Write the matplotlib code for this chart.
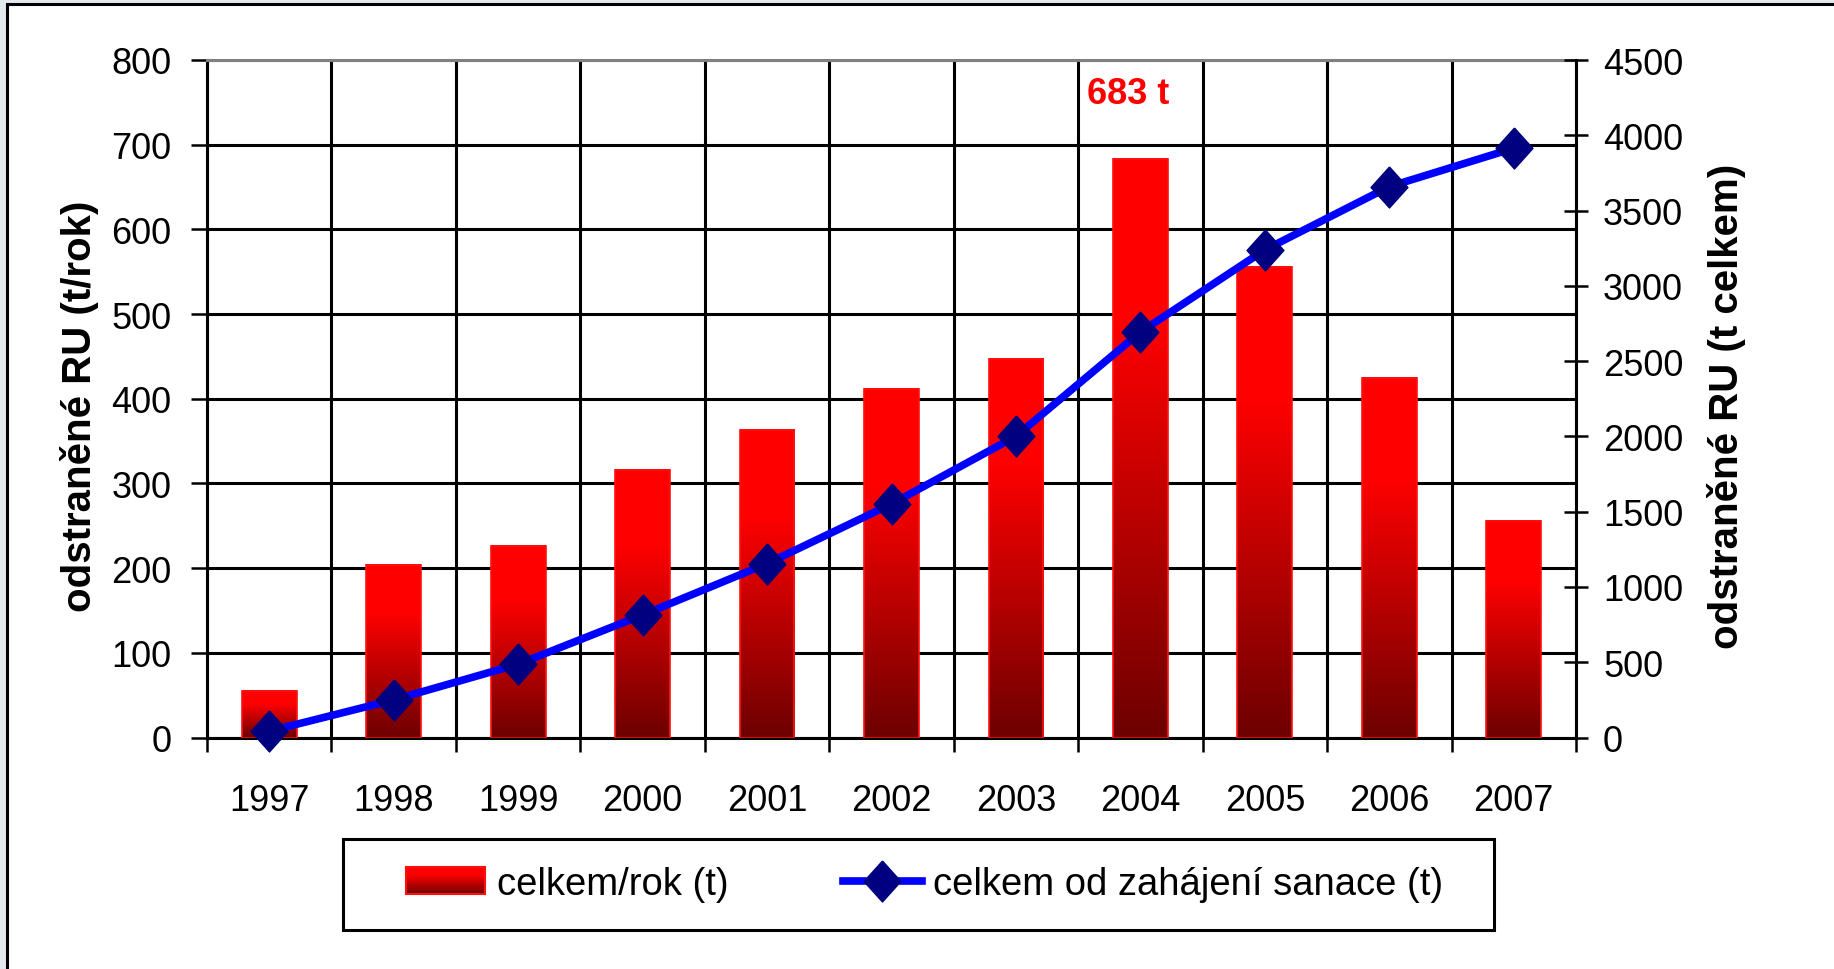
import matplotlib
matplotlib.use("Agg")
import matplotlib.pyplot as plt
import numpy as np
from matplotlib.lines import Line2D
from matplotlib.patches import Rectangle

YEARS = ["1997", "1998", "1999", "2000", "2001", "2002",
         "2003", "2004", "2005", "2006", "2007"]
PER_YEAR = [55, 204, 226, 316, 363, 412, 447, 683, 555, 424, 256]
CUMULATIVE = [42, 250, 487, 814, 1155, 1551, 2001, 2693, 3239, 3659, 3914]
LEFT_TICKS = list(range(0, 801, 100))
RIGHT_TICKS = list(range(0, 4501, 500))
PEAK_TEXT = "683 t"
LEGEND_LABELS = ["celkem/rok (t)", "celkem od zahájení sanace (t)"]
LEFT_LABEL = "odstraněné RU (t/rok)"
RIGHT_LABEL = "odstraněné RU (t celkem)"

W, H = 1834, 970
plt.rcParams["font.family"] = ["Liberation Sans", "DejaVu Sans"]


def red_gradient(n=256):
    t = np.linspace(0, 1, n)
    r = np.where(t < 0.28, 1.0, 1.0 - (t - 0.28) / 0.72 * 0.57)
    img = np.zeros((n, 1, 3))
    img[:, 0, 0] = r
    return img


def fx(px):
    return px / W


def fy(py):
    return 1 - py / H


fig = plt.figure(figsize=(W / 100, H / 100), dpi=100, facecolor="#e4e9f0")
fig.add_artist(Rectangle((fx(7), -0.05), 1.1, fy(5) + 0.05, transform=fig.transFigure,
                         facecolor="white", edgecolor="black", lw=2.2, zorder=-1))

ax = fig.add_axes([fx(207), fy(738.5), fx(1576 - 207), (738.5 - 61) / H])
x = np.arange(len(YEARS))
grad = red_gradient()

bars = ax.bar(x, PER_YEAR, width=0.44, facecolor="none", edgecolor="#ff1010", lw=1.2, zorder=3)
for b in bars:
    x0, w, h = b.get_x(), b.get_width(), b.get_height()
    ax.imshow(grad, extent=[x0, x0 + w, 0, h], aspect="auto", zorder=2, interpolation="bilinear")

ax.set_xlim(-0.5, len(YEARS) - 0.5)
ax.set_ylim(0, 800)
ax.set_yticks(LEFT_TICKS)
ax.set_xticks(x)
ax.set_xticklabels(YEARS)
ax.set_xticks(np.arange(-0.5, len(YEARS)), minor=True)
ax.set_axisbelow(True)
ax.yaxis.grid(True, color="black", lw=2.2)
ax.xaxis.grid(True, which="minor", color="black", lw=2.2)
ax.tick_params(axis="x", which="major", length=0, pad=33, labelsize=26)
ax.tick_params(axis="x", which="minor", length=10, width=1.8, direction="out")
ax.tick_params(axis="y", length=11.5, width=1.8, pad=14, labelsize=26)
for side in ["left", "bottom"]:
    ax.spines[side].set_color("black")
    ax.spines[side].set_linewidth(2.2)
ax.spines["top"].set_color("#808080")
ax.spines["top"].set_linewidth(2.2)
ax.spines["right"].set_visible(False)

ax.text(6.9, 760, PEAK_TEXT, color="#ff0000", fontsize=26, fontweight="bold",
        ha="center", va="center")

diamond = [(0, 1), (0.9, 0), (0, -1), (-0.9, 0), (0, 1)]
ax2 = ax.twinx()
ax2.plot(x, CUMULATIVE, color="#0000ff", lw=5.5, marker=diamond, ms=29.5,
         mfc="#000080", mec="#000080", clip_on=False, zorder=3)
ax2.set_ylim(0, 4500)
ax2.set_yticks(RIGHT_TICKS)
ax2.tick_params(axis="y", direction="inout", length=17, width=1.8, pad=11, labelsize=26)
for side in ["left", "top", "bottom"]:
    ax2.spines[side].set_visible(False)
ax2.spines["right"].set_color("black")
ax2.spines["right"].set_linewidth(2.2)

fig.text(fx(80), fy(406), LEFT_LABEL, rotation=90, fontsize=29, fontweight="bold",
         ha="center", va="center")
fig.text(fx(1727), fy(406), RIGHT_LABEL, rotation=90, fontsize=29, fontweight="bold",
         ha="center", va="center")

bar_proxy = Rectangle((0, 0), 1, 1, facecolor="none", edgecolor="#ff1010", lw=1.5)
line_proxy = Line2D([], [], color="#0000ff", lw=5.5, marker=diamond, ms=29.5,
                    mfc="#000080", mec="#000080")
leg = fig.legend([bar_proxy, line_proxy], LEGEND_LABELS, loc="center left",
                 bbox_to_anchor=(fx(406), fy(885)), ncol=2, frameon=False, fontsize=27.5,
                 handlelength=2.07, handleheight=0.68, handletextpad=0.3,
                 columnspacing=3.0, borderpad=0, borderaxespad=0)
fig.add_artist(Rectangle((fx(343), fy(931)), fx(1494 - 343), 91 / H, transform=fig.transFigure,
                         fill=False, edgecolor="black", lw=2.2))

# gradient fill for the legend patch
fig.canvas.draw()
bb = leg.legend_handles[0].get_window_extent(fig.canvas.get_renderer())
bb = bb.transformed(fig.transFigure.inverted())
hax = fig.add_axes([bb.x0, bb.y0, bb.width, bb.height])
hax.imshow(grad, aspect="auto", interpolation="bilinear")
hax.axis("off")

fig.savefig("out.png", dpi=100, facecolor=fig.get_facecolor())
